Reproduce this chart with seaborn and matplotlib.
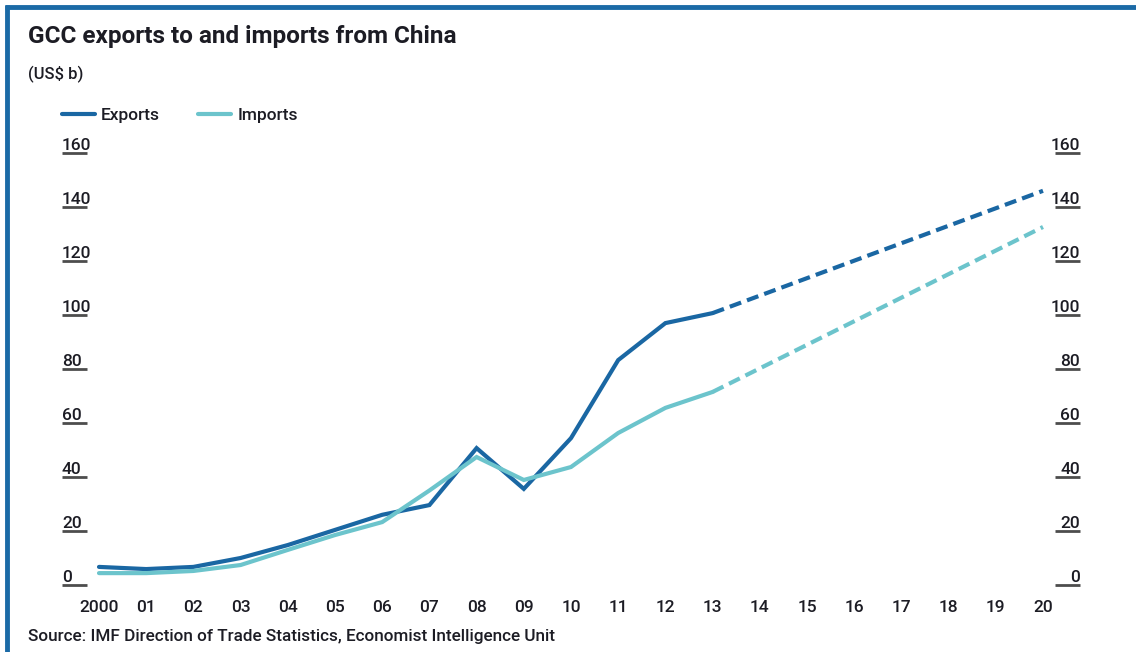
import matplotlib
matplotlib.use("Agg")
import matplotlib.pyplot as plt
import seaborn as sns
import pandas as pd
from matplotlib.transforms import ScaledTranslation
from matplotlib.lines import Line2D

# ---- data (US$ b) ----
years = list(range(2000, 2014))
exports = [6.7, 5.9, 6.7, 10.0, 14.8, 20.4, 26.0, 29.6, 50.7, 35.6, 54.4, 83.3, 97.0, 100.7]
imports = [4.4, 4.4, 5.2, 7.4, 13.0, 18.5, 23.3, 35.0, 47.4, 38.9, 43.7, 56.3, 65.6, 71.5]
forecast_years = [2013, 2020]
exports_forecast = [100.7, 146.0]
imports_forecast = [71.5, 132.6]
x_ticks = list(range(2000, 2021))
x_labels = ["2000"] + [f"{y % 100:02d}" for y in range(2001, 2021)]
y_ticks = [0, 20, 40, 60, 80, 100, 120, 140, 160]

title = "GCC exports to and imports from China"
subtitle = "(US$ b)"
source = "Source: IMF Direction of Trade Statistics, Economist Intelligence Unit"

EXP_C = "#1a67a3"
IMP_C = "#6cc4cc"
FRAME_C = "#1b6aa6"
TEXT_C = "#1c1c24"

sns.set_style("white")
plt.rcParams["font.family"] = ["Roboto", "DejaVu Sans"]
plt.rcParams["font.weight"] = "medium"

actual = pd.DataFrame({"year": years + years,
                       "value": exports + imports,
                       "series": ["Exports"] * len(years) + ["Imports"] * len(years)})
fc = pd.DataFrame({"year": forecast_years + forecast_years,
                   "value": exports_forecast + imports_forecast,
                   "series": ["Exports"] * 2 + ["Imports"] * 2})
palette = {"Exports": EXP_C, "Imports": IMP_C}

W, H = 1136, 652
fig = plt.figure(figsize=(W / 100, H / 100), dpi=100)
ax = fig.add_axes([87 / W, (H - 595.8) / H, 968 / W, 453.6 / H])

sns.lineplot(data=actual, x="year", y="value", hue="series", palette=palette,
             linewidth=3.0, ax=ax, legend=False, sort=False)
sns.lineplot(data=fc, x="year", y="value", hue="series", palette=palette,
             linewidth=3.0, ax=ax, legend=False, sort=False)
for ln in ax.lines[-2:]:
    ln.set_linestyle((0, (2.9, 1.5)))
    ln.set_dash_capstyle("butt")
for ln in ax.lines:
    ln.set_solid_joinstyle("miter")

ax.set_xlim(2000 - 12 / 47.2, 2020 + 12 / 47.2)
ax.set_ylim(-4, 164)
ax.set_xticks(x_ticks)
ax.set_xticklabels(x_labels)
ax.set_yticks(y_ticks)
ax.set_yticklabels([str(v) for v in y_ticks])
ax.set_xlabel("")
ax.set_ylabel("")
for s in ax.spines.values():
    s.set_visible(False)

ax.tick_params(axis="x", length=0, pad=3, labelsize=12.5, labelcolor=TEXT_C)
ax.tick_params(axis="y", which="major", left=True, right=True, labelleft=True,
               labelright=True, direction="out", length=18, width=2.0,
               color="#4d4d4d", pad=0, labelsize=12.5, labelcolor=TEXT_C)

off = ScaledTranslation(0, 3 / 100, fig.dpi_scale_trans)
for t in ax.yaxis.get_major_ticks():
    t.label1.set_horizontalalignment("left")
    t.label1.set_verticalalignment("baseline")
    t.label1.set_transform(t.label1.get_transform() + off)
    t.label2.set_horizontalalignment("right")
    t.label2.set_verticalalignment("baseline")
    t.label2.set_transform(t.label2.get_transform() + off)

# legend
handles = [Line2D([], [], color=EXP_C, lw=3.0), Line2D([], [], color=IMP_C, lw=3.0)]
fig.legend(handles, ["Exports", "Imports"], loc="center left",
           bbox_to_anchor=(62 / W, 1 - 115 / H), ncol=2, frameon=False,
           fontsize=12.5, handlelength=1.9, handletextpad=0.35, columnspacing=2.2,
           borderpad=0, borderaxespad=0, labelcolor=TEXT_C)

fig.text(28 / W, 1 - 36 / H, title, fontsize=17.5, fontweight="bold",
         color=TEXT_C, va="center", ha="left")
fig.text(28 / W, 1 - 74 / H, subtitle, fontsize=12, color=TEXT_C,
         va="center", ha="left")
fig.text(28 / W, 1 - 636 / H, source, fontsize=12.3, color=TEXT_C,
         va="center", ha="left")

# frame (top and left blue rule)
top = Line2D([5 / W, 1], [1 - 7 / H, 1 - 7 / H], color=FRAME_C, lw=3.5,
             transform=fig.transFigure, solid_capstyle="butt")
left = Line2D([7 / W, 7 / W], [0, 1 - 5 / H], color=FRAME_C, lw=3.5,
              transform=fig.transFigure, solid_capstyle="butt")
fig.add_artist(top)
fig.add_artist(left)

fig.savefig("out.png", dpi=100)
